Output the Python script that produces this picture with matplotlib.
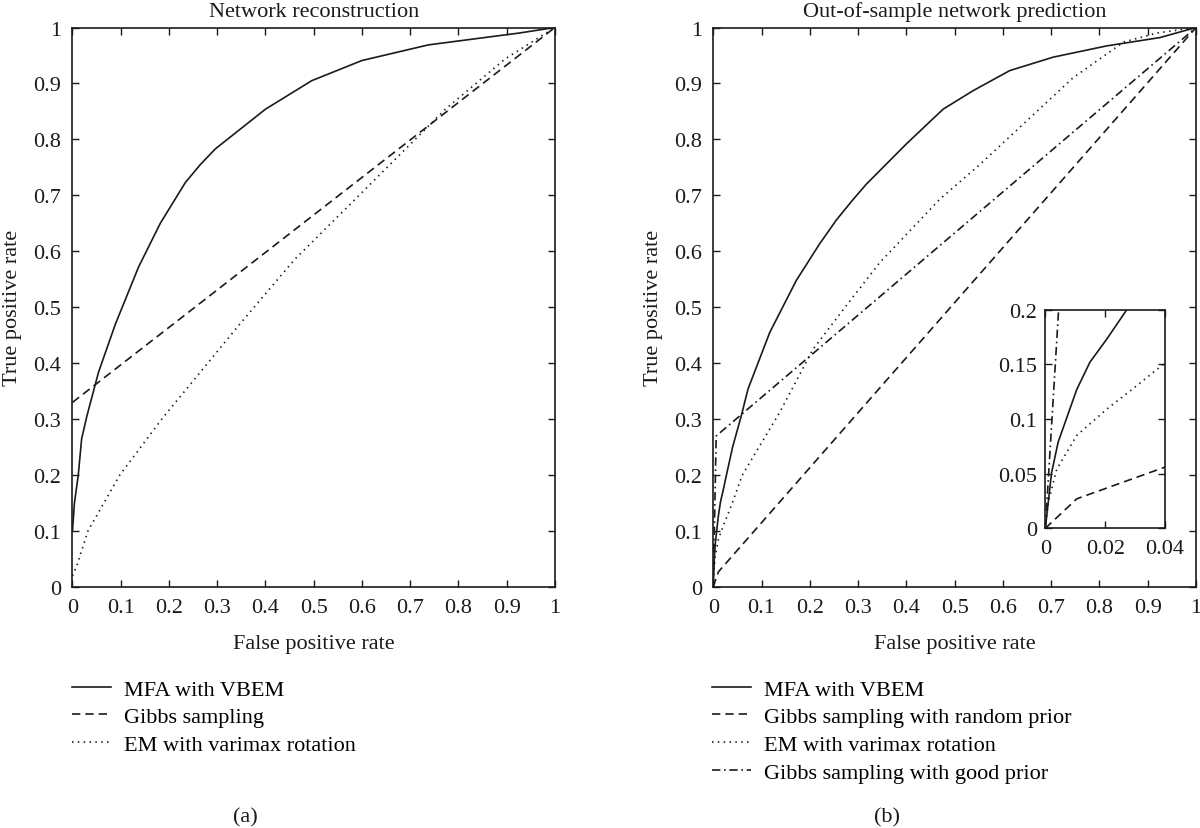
import matplotlib
matplotlib.use("Agg")
import matplotlib.pyplot as plt

plt.rcParams['font.family'] = ['Liberation Serif', 'DejaVu Serif']

# ---------------- data ----------------
ticks_main = [0, 0.1, 0.2, 0.3, 0.4, 0.5, 0.6, 0.7, 0.8, 0.9, 1]
tick_labels_main = ['0', '0.1', '0.2', '0.3', '0.4', '0.5', '0.6', '0.7', '0.8', '0.9', '1']
inset_xticks = [0, 0.02, 0.04]
inset_xlabels = ['0', '0.02', '0.04']
inset_yticks = [0, 0.05, 0.1, 0.15, 0.2]
inset_ylabels = ['0', '0.05', '0.1', '0.15', '0.2']

# (a) Network reconstruction
a_mfa_x = [0, 0.004, 0.012, 0.019, 0.030, 0.054, 0.089, 0.137, 0.182, 0.234, 0.265, 0.296,
           0.40, 0.496, 0.60, 0.738, 0.925, 1]
a_mfa_y = [0.1, 0.15, 0.2, 0.265, 0.306, 0.384, 0.47, 0.572, 0.65, 0.723, 0.755, 0.783,
           0.854, 0.905, 0.941, 0.969, 0.990, 1]
a_gibbs_x = [0, 1]
a_gibbs_y = [0.33, 1]
a_em_x = [0, 0.009, 0.032, 0.098, 0.185, 0.344, 0.46, 0.586, 0.773, 0.897, 1]
a_em_y = [0.02, 0.038, 0.1, 0.2, 0.30, 0.467, 0.585, 0.693, 0.854, 0.944, 1]

# (b) Out-of-sample network prediction
b_mfa_x = [0, 0.0021, 0.0043, 0.0105, 0.0149, 0.0205, 0.0272, 0.04, 0.058, 0.072, 0.117,
           0.172, 0.220, 0.255, 0.289, 0.317, 0.40, 0.476, 0.538, 0.614, 0.704, 0.814, 0.925, 1]
b_mfa_y = [0, 0.051, 0.079, 0.127, 0.152, 0.173, 0.2, 0.25, 0.306, 0.354, 0.455,
           0.548, 0.613, 0.656, 0.692, 0.72, 0.792, 0.854, 0.887, 0.923, 0.947, 0.967, 0.982, 1]
b_gibbs_rand_x = [0, 0.0105, 1]
b_gibbs_rand_y = [0, 0.027, 1]
b_em_x = [0, 0.001, 0.0038, 0.0105, 0.0205, 0.0294, 0.0394, 0.06, 0.1375, 0.2066, 0.2756,
          0.345, 0.469, 0.552, 0.608, 0.745, 0.85, 0.918, 1]
b_em_y = [0, 0.024, 0.054, 0.085, 0.109, 0.128, 0.150, 0.20, 0.312, 0.425, 0.503,
          0.580, 0.693, 0.755, 0.80, 0.91, 0.974, 0.99, 1]
b_gibbs_good_x = [0, 0.006, 1]
b_gibbs_good_y = [0, 0.27, 1]

legend_a = ['MFA with VBEM', 'Gibbs sampling', 'EM with varimax rotation']
legend_b = ['MFA with VBEM', 'Gibbs sampling with random prior',
            'EM with varimax rotation', 'Gibbs sampling with good prior']

# ---------------- styles ----------------
LW = 1.2
COL = '#1a1a1a'
ST_SOLID = '-'
ST_DASH = (0, (5, 3))
ST_DOT = (0, (0.9, 2.6))
ST_DASHDOT = (0, (5, 2.2, 1, 2.2))
FS = 16

fig = plt.figure(figsize=(12, 8.29), dpi=100)

def style_axes(ax, fs=FS):
    ax.tick_params(direction='in', top=True, right=True, length=5, width=1,
                   labelsize=fs, pad=8, colors=COL)
    for s in ax.spines.values():
        s.set_linewidth(1.2)
        s.set_color(COL)

axA = fig.add_axes([0.0604, 0.2907, 0.402, 0.6749])
axB = fig.add_axes([0.5944, 0.2907, 0.4023, 0.6749])

la1, = axA.plot(a_mfa_x, a_mfa_y, color=COL, lw=LW, ls=ST_SOLID)
la2, = axA.plot(a_gibbs_x, a_gibbs_y, color=COL, lw=LW, ls=ST_DASH)
la3, = axA.plot(a_em_x, a_em_y, color=COL, lw=LW, ls=ST_DOT)

lb1, = axB.plot(b_mfa_x, b_mfa_y, color=COL, lw=LW, ls=ST_SOLID)
lb2, = axB.plot(b_gibbs_rand_x, b_gibbs_rand_y, color=COL, lw=LW, ls=ST_DASH)
lb3, = axB.plot(b_em_x, b_em_y, color=COL, lw=LW, ls=ST_DOT)
lb4, = axB.plot(b_gibbs_good_x, b_gibbs_good_y, color=COL, lw=LW, ls=ST_DASHDOT)

for ax, title in [(axA, 'Network reconstruction'), (axB, 'Out-of-sample network prediction')]:
    ax.set_xlim(0, 1)
    ax.set_ylim(0, 1)
    ax.set_xticks(ticks_main)
    ax.set_xticklabels(tick_labels_main)
    ax.set_yticks(ticks_main)
    ax.set_yticklabels(tick_labels_main)
    style_axes(ax)
    ax.set_title(title, fontsize=FS, pad=8, color=COL)
    ax.set_xlabel('False positive rate', fontsize=FS, labelpad=12, color=COL)
    ax.set_ylabel('True positive rate', fontsize=FS, labelpad=8, color=COL)

# inset
axI = fig.add_axes([0.8711, 0.3615, 0.0998, 0.2637])
axI.plot(b_mfa_x, b_mfa_y, color=COL, lw=LW, ls=ST_SOLID)
axI.plot(b_gibbs_rand_x, b_gibbs_rand_y, color=COL, lw=LW, ls=ST_DASH)
axI.plot(b_em_x, b_em_y, color=COL, lw=LW, ls=ST_DOT)
axI.plot(b_gibbs_good_x, b_gibbs_good_y, color=COL, lw=LW, ls=ST_DASHDOT)
axI.set_xlim(0, 0.04)
axI.set_ylim(0, 0.2)
axI.set_xticks(inset_xticks)
axI.set_xticklabels(inset_xlabels)
axI.set_yticks(inset_yticks)
axI.set_yticklabels(inset_ylabels)
style_axes(axI)
axI.tick_params(axis='x', pad=8)
axI.tick_params(axis='y', pad=6)

# legends
for handles, labels, x0 in [([la1, la2, la3], legend_a, 72),
                            ([lb1, lb2, lb3, lb4], legend_b, 712)]:
    fig.legend(handles, labels, loc='upper left',
               bbox_to_anchor=(x0 / 1200, 1 - 680 / 829), frameon=False, fontsize=FS,
               handlelength=1.75, handletextpad=0.6, labelspacing=0.32,
               borderpad=0, borderaxespad=0)

fig.text(245 / 1200, 1 - 818 / 829, '(a)', ha='center', va='center', fontsize=FS, color=COL)
fig.text(887 / 1200, 1 - 818 / 829, '(b)', ha='center', va='center', fontsize=FS, color=COL)

fig.savefig('out.png', dpi=100)
